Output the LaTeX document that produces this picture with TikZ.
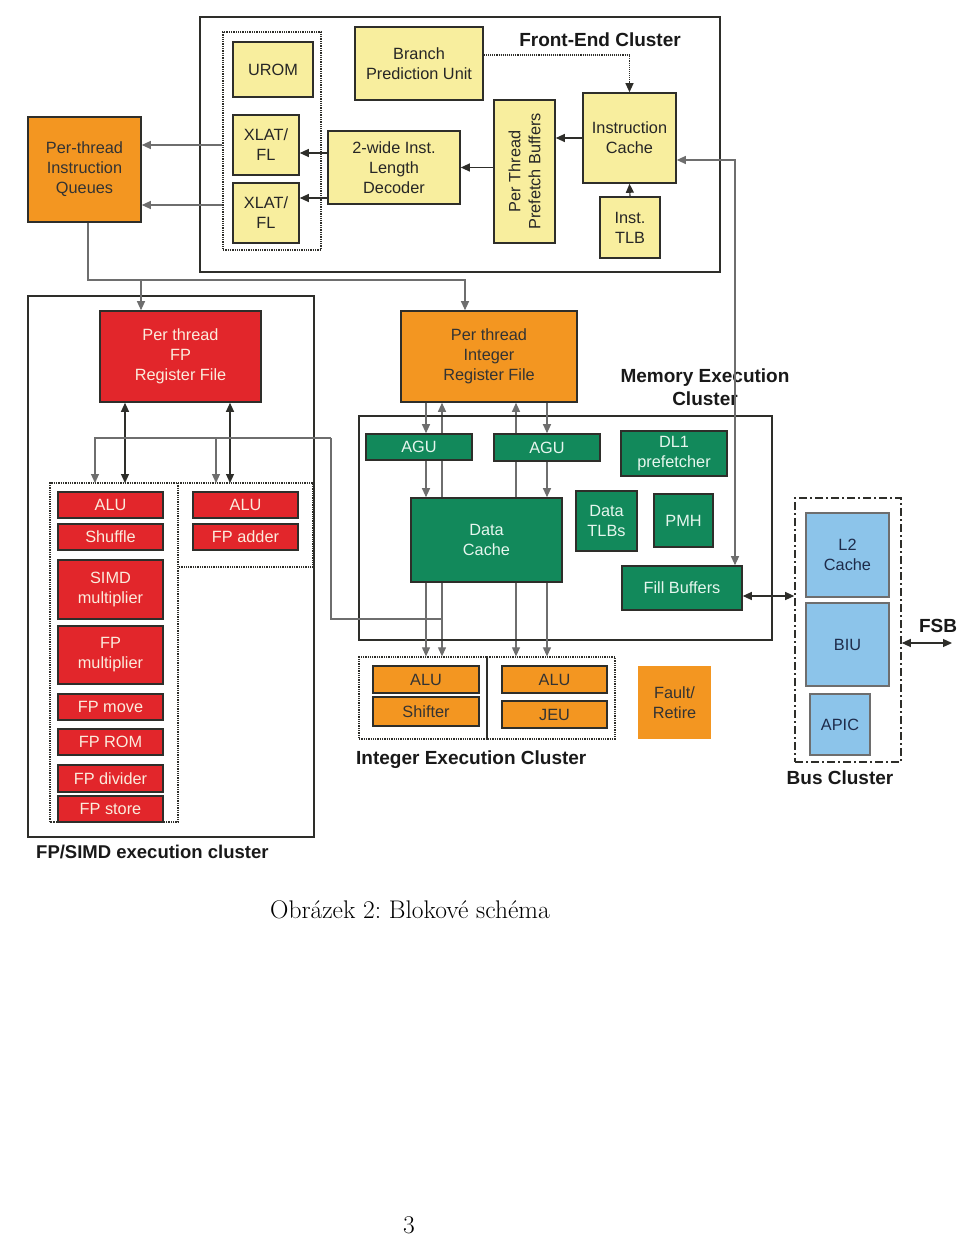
\documentclass[tikz,border=0pt]{standalone}
\usepackage{fontspec}
\newfontfamily\arial{Liberation Sans}
\usetikzlibrary{arrows.meta,calc}
\pgfdeclarelayer{back}
\pgfdeclarelayer{bg}
\pgfsetlayers{back,bg,main}
\definecolor{bdr}{HTML}{2E2E2A}
\definecolor{yel}{HTML}{F8EE9E}
\definecolor{org}{HTML}{F39621}
\definecolor{rd}{HTML}{E2262B}
\definecolor{grn}{HTML}{12895B}
\definecolor{blu}{HTML}{8CC4EA}
\definecolor{gln}{HTML}{6E6E6E}
\definecolor{redtxt}{HTML}{FBECDD}
\definecolor{grntxt}{HTML}{E6F6EE}
\definecolor{blutxt}{HTML}{1E2B4A}
\frenchspacing
\begin{document}
\begin{tikzpicture}[x=1pt,y=-1pt,
  blk/.style={draw=bdr, line width=1.6pt, inner sep=0pt, align=center,
    font=\arial\fontsize{16.3}{20}\selectfont},
  yb/.style={blk, fill=yel, text=black!85},
  ob/.style={blk, fill=org, text=black!80},
  rb/.style={blk, fill=rd, text=redtxt},
  gb/.style={blk, fill=grn, text=grntxt},
  bb/.style={blk, fill=blu, draw=gln, text=blutxt},
  clus/.style={draw=bdr, line width=1.8pt, inner sep=0pt},
  dotbox/.style={draw=bdr, densely dotted, line width=1.3pt, inner sep=0pt},
  dashdotbox/.style={draw=bdr, dash pattern=on 8pt off 3pt on 2pt off 3pt, line width=1.6pt, inner sep=0pt},
  clab/.style={font=\arial\bfseries\fontsize{19}{23}\selectfont, text=black!90, inner sep=0pt, align=center},
  captxt/.style={font=\frenchspacing\fontsize{25.5}{30}\selectfont, inner sep=0pt},
  arrtip/.style={-{Triangle[length=9pt,width=8pt]}},
  arrtips/.style={{Triangle[length=9pt,width=8pt]}-{Triangle[length=9pt,width=8pt]}},
  darrow/.style={arrtip, draw=bdr, line width=1.1pt},
  darr2/.style={arrtips, draw=bdr, line width=1.2pt},
  garrow/.style={arrtip, draw=gln, line width=1.1pt},
  garr2/.style={arrtips, draw=gln, line width=1.1pt},
  gline/.style={draw=gln, line width=1.1pt}]
\useasboundingbox (0,0) rectangle (960,1238);
\begin{pgfonlayer}{back}
\fill[white] (0,0) rectangle (960,1238);
\end{pgfonlayer}

% ---------- Front-End Cluster ----------
\node[clus, minimum width=520, minimum height=255] (fe) at (460,144.5) {};
\node[dotbox, minimum width=98, minimum height=218] (xlbox) at (272,141) {};
\node[yb, minimum width=80, minimum height=55] (urom) at (273,69.5) {UROM};
\node[yb, minimum width=66, minimum height=60] (xl1) at (266,145) {XLAT/\\FL};
\node[yb, minimum width=66, minimum height=60] (xl2) at (266,213) {XLAT/\\FL};
\node[yb, minimum width=128, minimum height=73] (bpu) at (419,63.5) {Branch\\Prediction Unit};
\node[yb, minimum width=132, minimum height=73] (dec) at (394,167.5) {2-wide Inst.\\Length\\Decoder};
\node[yb, minimum width=61, minimum height=143] (pb) at (524.5,171.5) {};
\node[rotate=90, align=center, font=\arial\fontsize{16.3}{20}\selectfont, text=black!85, inner sep=0pt] (pbtxt) at (pb.center) {Per Thread\\Prefetch Buffers};
\node[yb, minimum width=93, minimum height=90] (ic) at (629.5,138) {Instruction\\Cache};
\node[yb, minimum width=60, minimum height=61] (itlb) at (630,227.5) {Inst.\\TLB};
\node[clab] (felab) at (600,40) {Front-End Cluster};

\node[ob, minimum width=113, minimum height=105] (q) at (84.5,169.5) {Per-thread\\Instruction\\Queues};

% ---------- FP/SIMD cluster ----------
\node[clus, minimum width=286, minimum height=541] (fpc) at (171,566.5) {};
\node[rb, minimum width=161, minimum height=91] (fprf) at (180.5,356.5) {Per thread\\FP\\Register File};
\draw[draw=bdr, densely dotted, line width=1.3pt] (50,822) -- (50,483) -- (313,483) -- (313,567) -- (178,567);
\draw[draw=bdr, densely dotted, line width=1.3pt] (178,483) -- (178,822) -- (50,822);
\node[rb, minimum width=105, minimum height=26] (falu) at (110.5,505) {ALU};
\node[rb, minimum width=105, minimum height=26] (fshuf) at (110.5,537) {Shuffle};
\node[rb, minimum width=105, minimum height=59] (fsimd) at (110.5,589.5) {SIMD\\multiplier};
\node[rb, minimum width=105, minimum height=58] (fmul) at (110.5,655) {FP\\multiplier};
\node[rb, minimum width=105, minimum height=26] (fmove) at (110.5,707) {FP move};
\node[rb, minimum width=105, minimum height=26] (from) at (110.5,742) {FP ROM};
\node[rb, minimum width=105, minimum height=27] (fdiv) at (110.5,778.5) {FP divider};
\node[rb, minimum width=105, minimum height=26] (fstore) at (110.5,809) {FP store};
\node[rb, minimum width=105, minimum height=26] (falu2) at (245.5,505) {ALU};
\node[rb, minimum width=105, minimum height=26] (fadd) at (245.5,537) {FP adder};
\node[clab, anchor=west, font=\arial\bfseries\fontsize{18.5}{22}\selectfont] (fplab) at (36,852) {FP/SIMD execution cluster};

% ---------- Integer register file, Memory cluster ----------
\node[ob, minimum width=176, minimum height=91] (irf) at (489,356.5) {Per thread\\Integer\\Register File};
\node[clus, minimum width=413, minimum height=224] (me) at (565.5,528) {};
\node[clab] (melab) at (705,387) {Memory Execution\\Cluster};
\node[gb, minimum width=106, minimum height=26] (agu1) at (419,447) {AGU};
\node[gb, minimum width=106, minimum height=27] (agu2) at (547,447.5) {AGU};
\node[gb, minimum width=106, minimum height=45] (dl1) at (674,453.5) {DL1\\prefetcher};
\node[gb, minimum width=151, minimum height=84] (dc) at (486.5,540) {Data\\Cache};
\node[gb, minimum width=61, minimum height=60] (dtlb) at (606.5,521) {Data\\TLBs};
\node[gb, minimum width=59, minimum height=53] (pmh) at (683.5,520.5) {PMH};
\node[gb, minimum width=120, minimum height=44] (fb) at (682,588) {Fill Buffers};

% ---------- Integer execution cluster ----------
\node[dotbox, minimum width=256, minimum height=82] (ie) at (487,698) {};
\draw[draw=bdr, line width=1.1pt] (ie.north) -- (ie.south);
\node[ob, minimum width=106, minimum height=27] (ialu1) at (426,679.5) {ALU};
\node[ob, minimum width=106, minimum height=29] (ishift) at (426,711.5) {Shifter};
\node[ob, minimum width=105, minimum height=27] (ialu2) at (554.5,679.5) {ALU};
\node[ob, minimum width=105, minimum height=27] (ijeu) at (554.5,714.5) {JEU};
\node[ob, draw=none, minimum width=73, minimum height=73] (fault) at (674.5,702.5) {Fault/\\Retire};
\node[clab, anchor=west] (ielab) at (356,760) {Integer Execution Cluster};

% ---------- Bus cluster ----------
\node[dashdotbox, minimum width=106, minimum height=264] (bus) at (848,630) {};
\node[bb, minimum width=83, minimum height=84] (l2) at (847.5,555) {L2\\Cache};
\node[bb, minimum width=83, minimum height=83] (biu) at (847.5,644.5) {BIU};
\node[bb, minimum width=60, minimum height=61] (apic) at (840,724.5) {APIC};
\node[clab] (buslab) at (840,778) {Bus Cluster};
\node[clab] (fsblab) at (938,626) {FSB};

% ---------- helper coordinates ----------
\coordinate (y55) at (0,55);
\coordinate (y145) at (0,145);
\coordinate (y153) at (0,153);
\coordinate (y160) at (0,160);
\coordinate (y198) at (0,198);
\coordinate (y205) at (0,205);
\coordinate (y280) at (0,280);
\coordinate (y438) at (0,438);
\coordinate (y596) at (0,596);
\coordinate (y619) at (0,619);
\coordinate (y643) at (0,643);
\coordinate (x88) at (88,0);
\coordinate (x141) at (141,0);
\coordinate (x331) at (331,0);
\coordinate (x426) at (426,0);
\coordinate (x442) at (442,0);
\coordinate (x465) at (465,0);
\coordinate (x516) at (516,0);
\coordinate (x547) at (547,0);
\coordinate (x735) at (735,0);
\coordinate (c95) at (95,483);
\coordinate (c125) at (125,483);
\coordinate (c216) at (216,483);
\coordinate (c230) at (230,483);
\coordinate (fsbend) at (952,643);

% ---------- connectors ----------
\draw[darrow, densely dotted] (bpu.east |- y55) -| (ic.north);
\draw[darrow] (ic.west) -- (ic.west -| pb.east);
\draw[darrow] (pb.west |- dec.east) -- (dec.east);
\draw[darrow] (dec.west |- y153) -- (xl1.east |- y153);
\draw[darrow] (dec.west |- y198) -- (xl2.east |- y198);
\draw[garrow] (xlbox.west |- y145) -- (q.east |- y145);
\draw[garrow] (xlbox.west |- y205) -- (q.east |- y205);
\draw[darrow] (itlb.north) -- (ic.south);
\draw[garr2] (ic.east |- y160) -| (fb.north -| x735);

\draw[garrow] (q.south -| x88) -- (x88 |- y280) -| (irf.north -| x465);
\draw[garrow] (x141 |- y280) -- (fprf.north -| x141);

\draw[darr2] (fprf.south -| c125) -- (c125);
\draw[darr2] (fprf.south -| c230) -- (c230);
\draw[garrow] (x331 |- y438) -- (c95 |- y438) -- (c95);
\draw[garrow] (c216 |- y438) -- (c216);
\draw[gline] (x331 |- y438) -- (x331 |- y619) -- (x442 |- y619);

\begin{pgfonlayer}{bg}
\draw[garr2] (irf.south -| x442) -- (ie.north -| x442);
\draw[garr2] (irf.south -| x516) -- (ie.north -| x516);
\end{pgfonlayer}
\draw[garrow] (irf.south -| x426) -- (agu1.north -| x426);
\draw[garrow] (agu1.south -| x426) -- (dc.north -| x426);
\draw[garrow] (dc.south -| x426) -- (ie.north -| x426);
\draw[garrow] (irf.south -| x547) -- (agu2.north -| x547);
\draw[garrow] (agu2.south -| x547) -- (dc.north -| x547);
\draw[garrow] (dc.south -| x547) -- (ie.north -| x547);

\draw[darr2] (fb.east |- y596) -- (bus.west |- y596);
\draw[darr2] (bus.east |- y643) -- (fsbend);

% ---------- caption ----------
\node[captxt] (caption) at (410,910) {Obrázek 2: Blokové schéma};
\node[captxt] (pagenum) at (409,1225) {3};
\end{tikzpicture}
\end{document}
